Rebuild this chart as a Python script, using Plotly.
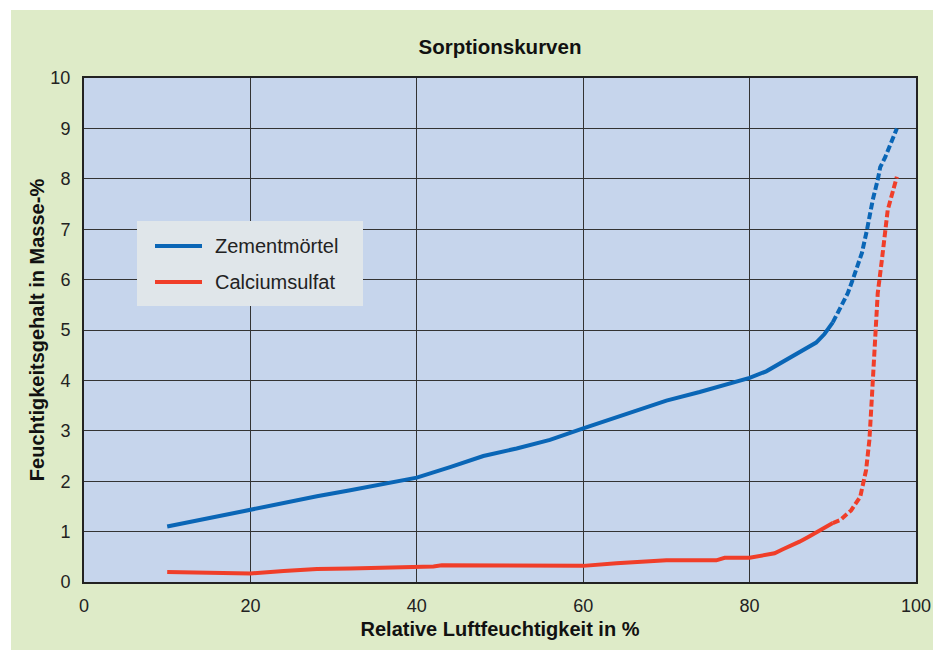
import plotly.graph_objects as go

# ---- data ----
zement_x = [10, 15, 20, 23, 24, 28, 32, 36, 40, 44, 48, 52, 56, 60, 64, 68, 70, 74, 78, 80, 82, 84, 86, 88, 89, 90]
zement_y = [1.1, 1.27, 1.43, 1.53, 1.58, 1.7, 1.82, 1.94, 2.07, 2.28, 2.5, 2.65, 2.82, 3.05, 3.27, 3.5, 3.6, 3.77, 3.95, 4.05, 4.18, 4.37, 4.56, 4.75, 4.92, 5.15]
zement_dash_x = [90, 91.8, 92.4, 93.5, 94.1, 94.8, 95.4, 95.7, 96.3, 97.7]
zement_dash_y = [5.15, 5.73, 6.0, 6.53, 6.98, 7.58, 7.98, 8.23, 8.43, 9.0]

calcium_x = [10, 15, 20, 24, 28, 32, 36, 40, 42, 43, 50, 55, 60, 64, 68, 70, 76, 77, 80, 82, 83, 84, 85, 86, 87, 88, 89, 90]
calcium_y = [0.2, 0.18, 0.17, 0.22, 0.26, 0.27, 0.28, 0.3, 0.31, 0.33, 0.33, 0.32, 0.32, 0.37, 0.42, 0.43, 0.43, 0.48, 0.48, 0.53, 0.57, 0.65, 0.72, 0.8, 0.89, 0.98, 1.07, 1.17]
calcium_dash_x = [90, 90.9, 92.2, 93.3, 94.0, 94.4, 94.7, 94.9, 95.2, 95.4, 95.9, 96.3, 96.6, 97.7]
calcium_dash_y = [1.17, 1.23, 1.42, 1.69, 2.22, 2.82, 3.67, 4.35, 5.0, 5.73, 6.39, 6.98, 7.38, 8.04]

series_names = ["Zementmörtel", "Calciumsulfat"]
x_ticks = [0, 20, 40, 60, 80, 100]
x_tick_labels = ["0", "20", "40", "60", "80", "100"]
y_ticks = [0, 1, 2, 3, 4, 5, 6, 7, 8, 9, 10]

BLUE = "#0a66b6"
RED = "#f03e29"
GREEN = "#deebc8"
PLOTBG = "#c6d5ec"
LEGBG = "#e0e6ea"
FONT = "Liberation Sans"

fig = go.Figure()
fig.add_trace(go.Scatter(x=zement_x, y=zement_y, mode="lines", name=series_names[0],
                         showlegend=False, line=dict(color=BLUE, width=4)))
fig.add_trace(go.Scatter(x=zement_dash_x, y=zement_dash_y, mode="lines", showlegend=False,
                         line=dict(color=BLUE, width=4, dash="7px,3px")))
fig.add_trace(go.Scatter(x=calcium_x, y=calcium_y, mode="lines", name=series_names[1],
                         showlegend=False, line=dict(color=RED, width=4)))
fig.add_trace(go.Scatter(x=calcium_dash_x, y=calcium_dash_y, mode="lines", showlegend=False,
                         line=dict(color=RED, width=4, dash="7px,3px")))

L, R, T, B = 84, 17, 78, 68
W, H = 933, 650
pw, ph = W - L - R, H - T - B

def px(xp):
    return (xp - L) / pw

def py(yp):
    return (H - B - yp) / ph

shapes = [
    dict(type="rect", xref="paper", yref="paper", x0=px(0), x1=px(11), y0=py(H), y1=py(0),
         fillcolor="white", line=dict(width=0), layer="above"),
    dict(type="rect", xref="paper", yref="paper", x0=px(0), x1=px(W), y0=py(10), y1=py(0),
         fillcolor="white", line=dict(width=0), layer="above"),
    dict(type="rect", xref="paper", yref="paper", x0=px(137), x1=px(363), y0=py(306), y1=py(221),
         fillcolor=LEGBG, line=dict(width=0), layer="above"),
]
annotations = []
for name, color, ly in zip(series_names, [BLUE, RED], [246, 282]):
    shapes.append(dict(type="line", xref="paper", yref="paper", x0=px(155), x1=px(202),
                       y0=py(ly), y1=py(ly), line=dict(color=color, width=4), layer="above"))
    annotations.append(dict(text=name, xref="paper", yref="paper", x=px(213), y=py(ly),
                            xanchor="left", yanchor="middle", showarrow=False,
                            font=dict(size=20, color="#222")))

fig.update_layout(
    width=W, height=H,
    margin=dict(l=L, r=R, t=T, b=B, autoexpand=False),
    paper_bgcolor=GREEN,
    plot_bgcolor=PLOTBG,
    font=dict(family=FONT, size=18, color="#222"),
    title=dict(text="<b>Sorptionskurven</b>", xref="container", x=500 / W, xanchor="center",
               yref="container", y=1 - 47 / H, yanchor="middle", font=dict(size=20.5, color="#111")),
    showlegend=False,
    xaxis=dict(range=[0, 100], tickvals=x_ticks, ticktext=x_tick_labels, showgrid=True, gridcolor="#333",
               gridwidth=1.3, zeroline=False, showline=True, linecolor="#222", linewidth=2,
               mirror=True, ticks="", ticklabelstandoff=6, automargin=False,
               title=dict(text="<b>Relative Luftfeuchtigkeit in %</b>", standoff=7,
                          font=dict(size=20, color="#111"))),
    yaxis=dict(range=[0, 10], tickvals=y_ticks, showgrid=True, gridcolor="#333",
               gridwidth=1.3, zeroline=False, showline=True, linecolor="#222", linewidth=2,
               mirror=True, ticks="", ticklabelstandoff=8, automargin=False,
               title=dict(text="<b>Feuchtigkeitsgehalt in Masse-%</b>", standoff=0,
                          font=dict(size=20, color="#111"))),
    shapes=shapes,
    annotations=annotations,
)

fig.write_html("out.html", config={"displayModeBar": False},
               post_script="document.body.style.margin='0';document.body.style.overflow='hidden';")
